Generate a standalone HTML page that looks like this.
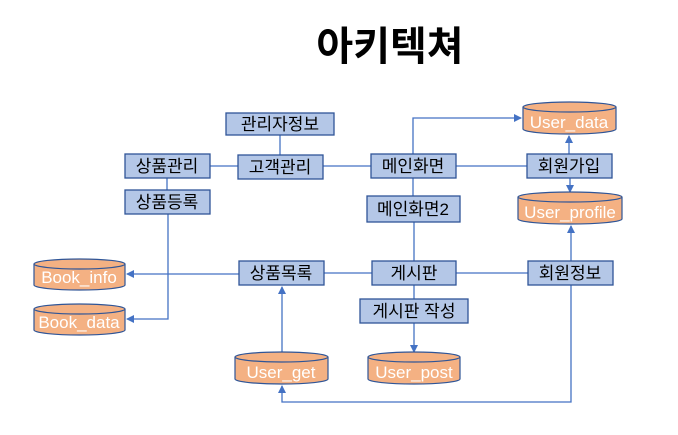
<!DOCTYPE html>
<html><head><meta charset="utf-8"><style>
html,body{margin:0;padding:0;background:#fff;width:678px;height:435px;overflow:hidden}
svg{display:block}
text{font-family:"Liberation Sans","Noto Sans CJK KR",sans-serif}
.b{fill:#b4c7e7;stroke:#2f5597;stroke-width:1.3}
.t{font-size:17px;fill:#000;text-anchor:middle}
.c{fill:#f4b183;stroke:#2f5597;stroke-width:1.2}
.ct{font-size:17px;fill:#fff;text-anchor:middle}
.l{stroke:#4472c4;stroke-width:1.3;fill:none}
</style></head><body>
<svg width="678" height="435" viewBox="0 0 678 435">
<defs><marker id="a" markerWidth="8" markerHeight="8" refX="7" refY="4" orient="auto" markerUnits="userSpaceOnUse"><path d="M0,0 L8,4 L0,8 z" fill="#4472c4"/></marker></defs>
<text x="390" y="60" style="font-size:40px;font-weight:bold;text-anchor:middle" font-family="Liberation Sans,Noto Sans CJK KR,sans-serif">아키텍쳐</text>

<path class="l" d="M210 166 H371"/>
<path class="l" d="M456 166 H527"/>
<path class="l" d="M280 135 V155"/>
<path class="l" d="M167 178 V190"/>
<path class="l" d="M413 154 V118 H521" marker-end="url(#a)"/>
<path class="l" d="M413 178 V196"/>
<path class="l" d="M414 222 V261"/>
<path class="l" d="M569 154 V136" marker-end="url(#a)"/>
<path class="l" d="M570 178 V192" marker-end="url(#a)"/>
<path class="l" d="M239 274 H127" marker-end="url(#a)"/>
<path class="l" d="M324 273 H372"/>
<path class="l" d="M456 273 H528"/>
<path class="l" d="M168 214 V319 H127" marker-end="url(#a)"/>
<path class="l" d="M414 285 V299"/>
<path class="l" d="M414 323 V352" marker-end="url(#a)"/>
<path class="l" d="M282 352 V287" marker-end="url(#a)"/>
<path class="l" d="M571 261 V226" marker-end="url(#a)"/>
<path class="l" d="M571 285 V402 H282 V386" marker-end="url(#a)"/>

<rect class="b" x="226" y="113" width="108" height="22"/><text class="t" x="280" y="130">관리자정보</text>
<rect class="b" x="125" y="154" width="85" height="24"/><text class="t" x="167" y="172">상품관리</text>
<rect class="b" x="238" y="155" width="85" height="24"/><text class="t" x="280" y="173">고객관리</text>
<rect class="b" x="371" y="154" width="85" height="24"/><text class="t" x="413" y="172">메인화면</text>
<rect class="b" x="527" y="154" width="85" height="24"/><text class="t" x="569" y="172">회원가입</text>
<rect class="b" x="125" y="190" width="85" height="24"/><text class="t" x="167" y="208">상품등록</text>
<rect class="b" x="367" y="196" width="93" height="26"/><text class="t" x="413" y="215">메인화면2</text>
<rect class="b" x="239" y="261" width="85" height="24"/><text class="t" x="281" y="279">상품목록</text>
<rect class="b" x="372" y="261" width="84" height="24"/><text class="t" x="414" y="279">게시판</text>
<rect class="b" x="528" y="261" width="85" height="24"/><text class="t" x="570" y="279">회원정보</text>
<rect class="b" x="360" y="299" width="108" height="24"/><text class="t" x="414" y="317">게시판 작성</text>

<g>
<path class="c" d="M523 107 V129 A46.5 5 0 0 0 616 129 V107"/><ellipse class="c" cx="569.5" cy="107" rx="46.5" ry="5"/><text class="ct" x="569" y="128">User_data</text>
<path class="c" d="M518 197 V219 A52 5 0 0 0 622 219 V197"/><ellipse class="c" cx="570" cy="197" rx="52" ry="5"/><text class="ct" x="570" y="218">User_profile</text>
<path class="c" d="M34 264 V285 A45.5 5 0 0 0 125 285 V264"/><ellipse class="c" cx="79.5" cy="264" rx="45.5" ry="5"/><text class="ct" x="79" y="283">Book_info</text>
<path class="c" d="M34 309 V330 A45.5 5 0 0 0 125 330 V309"/><ellipse class="c" cx="79.5" cy="309" rx="45.5" ry="5"/><text class="ct" x="79" y="328">Book_data</text>
<path class="c" d="M235 357 V379 A46.5 5 0 0 0 328 379 V357"/><ellipse class="c" cx="281.5" cy="357" rx="46.5" ry="5"/><text class="ct" x="281" y="378">User_get</text>
<path class="c" d="M368 357 V379 A46 5 0 0 0 460 379 V357"/><ellipse class="c" cx="414" cy="357" rx="46" ry="5"/><text class="ct" x="414" y="378">User_post</text>
</g>
</svg>
</body></html>
